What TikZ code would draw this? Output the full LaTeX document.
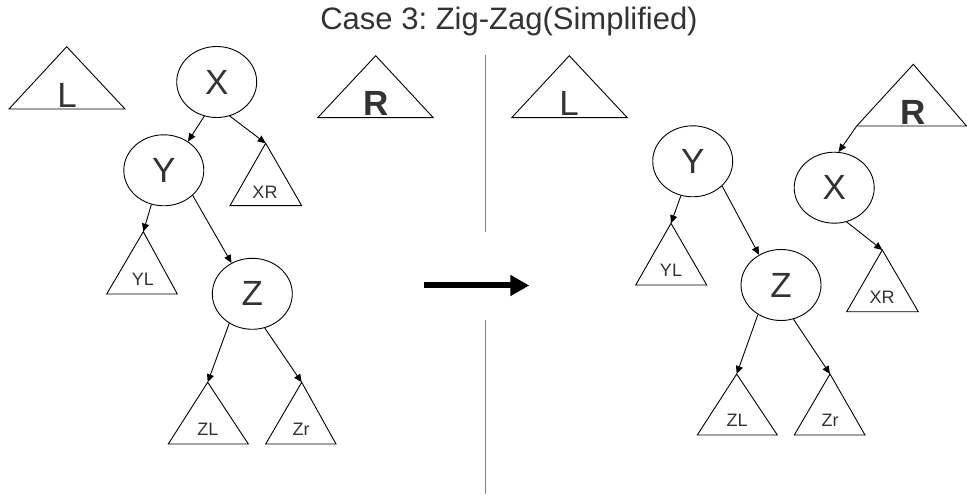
\documentclass[tikz,border=0pt]{standalone}
\usepackage{fontspec}
\setmainfont{Liberation Sans}
\usetikzlibrary{shapes.geometric,arrows.meta}
\definecolor{txtgray}{HTML}{333333}
\frenchspacing
\begin{document}
\begin{tikzpicture}
  [x=1pt,y=-1pt
  ,key/.style={ellipse,draw,line width=.9pt,minimum width=80pt,minimum height=71pt,inner sep=0pt,text=txtgray,font=\fontsize{35}{40}\selectfont}
  ,tri/.style={line width=.9pt,line join=miter}
  ,big/.style={text=txtgray,font=\fontsize{35}{40}\selectfont,anchor=base,inner sep=0pt}
  ,bigb/.style={big,font=\fontsize{35}{40}\selectfont\bfseries}
  ,small/.style={text=txtgray,font=\fontsize{18}{20}\selectfont,anchor=base,inner sep=0pt}
  ,edge/.style={line width=.9pt,-{Triangle[length=8pt,width=7pt]}}
  ,sep/.style={color=gray,line width=1pt}
  ,heavy/.style={line width=6pt,-{Triangle[length=19pt,width=20pt]}}
  ,title/.style={text=txtgray,font=\fontsize{31}{35}\selectfont,anchor=base,inner sep=0pt}
  ]
  \useasboundingbox (0,0) rectangle (967,497);
  \node[title] (title) at (509,29.3) {Case 3: Zig-Zag(Simplified)};

  % before
  \coordinate (l1-top) at (66.7,46.7);
  \draw[tri] (l1-top) -- (125,109) -- (9,109) -- cycle;
  \node[big] (l1-lbl) at (67,108) {L};
  \coordinate (r1-top) at (375.7,55.7);
  \draw[tri] (r1-top) -- (433.3,117.7) -- (317.7,117.7) -- cycle;
  \node[bigb] (r1-lbl) at (376,116) {R};
  \coordinate (xr1-top) at (265.7,143.3);
  \draw[tri] (xr1-top) -- (301.7,205.7) -- (230,205.7) -- cycle;
  \node[small] (xr1-lbl) at (265,198.3) {XR};
  \coordinate (yl1-top) at (143.3,231.7);
  \draw[tri] (yl1-top) -- (177.3,294) -- (106.7,294) -- cycle;
  \node[small] (yl1-lbl) at (143,285.7) {YL};
  \coordinate (zl1-top) at (207.7,382.3);
  \draw[tri] (zl1-top) -- (248.3,444) -- (168.3,444) -- cycle;
  \node[small] (zl1-lbl) at (208,435.7) {ZL};
  \coordinate (zr1-top) at (301.7,382.3);
  \draw[tri] (zr1-top) -- (336,444) -- (265.7,444) -- cycle;
  \node[small] (zr1-lbl) at (301,435.7) {Zr};

  \node[key] (x1) at (216.7,82) {X};
  \node[key] (y1) at (163.8,170.3) {Y};
  \node[key] (z1) at (252.3,293.8) {Z};

  \draw[edge] (x1.250) -- (y1.50);
  \draw[edge] (x1.291) -- (xr1-top);
  \draw[edge] (y1.250) -- (yl1-top);
  \draw[edge] (y1.319) -- (z1.124);
  \draw[edge] (z1.232) -- (zl1-top);
  \draw[edge] (z1.290) -- (zr1-top);

  % middle
  \coordinate (arr-from) at (424,285.5);
  \coordinate (arr-to) at (529.3,285.5);
  \draw[heavy] (arr-from) -- (arr-to);
  \coordinate (sep-a) at (485,55);
  \coordinate (sep-b) at (485,231.7);
  \coordinate (sep-c) at (485,320);
  \coordinate (sep-d) at (485,494);
  \draw[sep] (sep-a) -- (sep-b);
  \draw[sep] (sep-c) -- (sep-d);

  % after
  \coordinate (l2-top) at (569.3,55.7);
  \draw[tri] (l2-top) -- (627.3,117.7) -- (511.7,117.7) -- cycle;
  \node[big] (l2-lbl) at (569,116) {L};
  \coordinate (r2-top) at (913.3,64.3);
  \coordinate (r2-left) at (856.7,126);
  \draw[tri] (r2-top) -- (966.5,126) -- (r2-left) -- cycle;
  \node[bigb] (r2-lbl) at (913,124.3) {R};
  \coordinate (yl2-top) at (671,223.3);
  \draw[tri] (yl2-top) -- (706.7,285) -- (635.7,285) -- cycle;
  \node[small] (yl2-lbl) at (671,276.7) {YL};
  \coordinate (xr2-top) at (882.3,250);
  \draw[tri] (xr2-top) -- (918.3,311.7) -- (846.7,311.7) -- cycle;
  \node[small] (xr2-lbl) at (882,303.3) {XR};
  \coordinate (zl2-top) at (736.7,374);
  \draw[tri] (zl2-top) -- (777.3,435) -- (697.3,435) -- cycle;
  \node[small] (zl2-lbl) at (737,426.7) {ZL};
  \coordinate (zr2-top) at (830,374);
  \draw[tri] (zr2-top) -- (865,435) -- (794.3,435) -- cycle;
  \node[small] (zr2-lbl) at (830,426.7) {Zr};

  \node[key] (y2) at (692.7,161.3) {Y};
  \node[key] (x2) at (834.2,187.7) {X};
  \node[key] (z2) at (781,285) {Z};

  \draw[edge] (r2-left) -- (x2.83);
  \draw[edge] (y2.251) -- (yl2-top);
  \draw[edge] (y2.320) -- (z2.126);
  \draw[edge] (x2.290) -- (xr2-top);
  \draw[edge] (z2.232) -- (zl2-top);
  \draw[edge] (z2.290) -- (zr2-top);
\end{tikzpicture}
\end{document}
